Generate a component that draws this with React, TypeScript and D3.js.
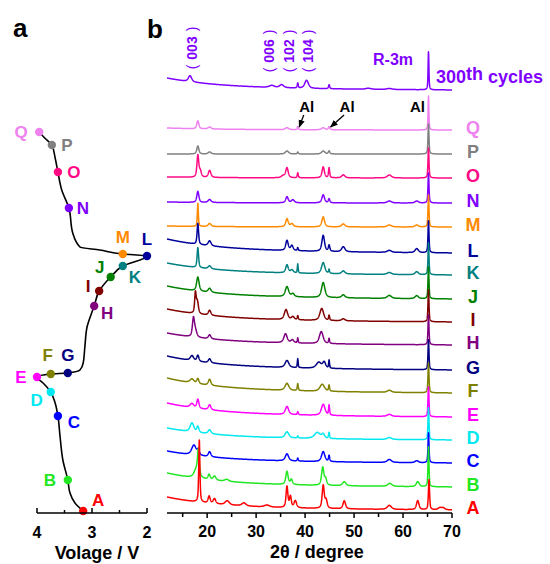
import React from "react";
import * as d3 from "d3";

const W = 550;
const H = 564;
const FONT = "'Liberation Sans', Arial, Helvetica, sans-serif";

// ---------- Panel a : charge/discharge curve ----------
const curveVoltage = [3.16, 3.31, 3.4, 3.44, 3.53, 3.58, 3.62, 3.67, 3.75, 3.89, 4.0, 3.75, 3.44, 3.22, 3.16, 3.13, 3.09, 3.0, 2.96, 2.87, 2.66, 2.44, 2.0, 2.44, 2.86, 3.22, 3.35, 3.42, 3.55, 3.62, 3.67, 3.73, 3.86, 3.96];
const curveTime = [0.5, 2.5, 5, 8.25, 13.25, 19, 24.25, 27.5, 30.25, 32.5, 34, 34.75, 35, 35.75, 37.5, 41.5, 46.5, 50.25, 51.75, 55.5, 59, 61.75, 64.25, 64.75, 65.75, 66.5, 70, 76.25, 80.75, 85.25, 88.75, 92, 93.75, 95.25];

const stateNames = ["A", "B", "C", "D", "E", "F", "G", "H", "I", "J", "K", "L", "M", "N", "O", "P", "Q"];
const stateVoltage = [3.16, 3.44, 3.62, 3.75, 4.0, 3.75, 3.44, 2.96, 2.87, 2.66, 2.44, 2.0, 2.44, 3.42, 3.62, 3.73, 3.96];
const stateTime = [0.5, 8.25, 24.25, 30.25, 34, 34.75, 35, 51.75, 55.5, 59, 61.75, 64.25, 64.75, 76.25, 85.25, 92, 95.25];
const stateColors = ["#ff0000", "#22e622", "#0000ff", "#00e8f0", "#ff00ff", "#808000", "#000080", "#800080", "#800000", "#008000", "#008080", "#00009c", "#ff8a00", "#8000ff", "#ff0a84", "#808080", "#ee82ee"];
const voltTicks = [4, 3, 2];
const voltMinorTicks = [3.5, 2.5];

// label offsets (layout)
const stateLabelDx = [15, -18, 16, -14, -16, -3, 0, 13, -11, -11, 12, 0, 0, 14, 16, 15, -18];
const stateLabelDy = [-11, 0, 6, 8, 0, -19, -18, 7, -5, -10, 11, -17, -17, 0, 0, 0, 0];

// ---------- Panel b : XRD patterns ----------
const traceNames = [...stateNames, "300th"];
const traceColors = [...stateColors, "#7f00ff"];
const traceBgStart = [16, 40, 62, 85, 110, 135, 157, 180, 204, 227, 250, 274, 287, 311, 336, 359, 385, 435];
const traceBgEnd = [3, 26, 50, 73, 96, 120, 143, 168, 191, 214, 238, 260, 286, 310, 335, 359, 383, 423];
// [2theta, height, half-width]
const tracePeaks: number[][][] = [
  // A
  [[18.4, 62, 0.14], [20.4, 7, 0.25], [21.5, 5, 0.3], [24.1, 4, 0.5], [27.5, 3, 0.5], [32.2, 2, 0.6], [36.3, 21, 0.22], [37.0, 11, 0.22], [38.0, 7, 0.3], [43.7, 23, 0.25], [44.3, 8, 0.25], [48.0, 8, 0.3], [57.2, 4, 0.5], [63.0, 9, 0.3], [65.3, 30, 0.14], [67.5, 2, 0.4], [68.2, 2, 0.4]],
  // B
  [[17.9, 10, 0.6], [18.2, 22, 0.18], [20.4, 5, 0.25], [21.5, 4, 0.35], [24.0, 2, 0.5], [36.3, 13, 0.28], [37.2, 5, 0.25], [43.6, 18, 0.28], [44.2, 6, 0.25], [48.0, 4, 0.4], [57.3, 3, 0.5], [63.0, 5, 0.35], [65.2, 40, 0.12]],
  // C
  [[17.3, 10, 0.55], [18.2, 5, 0.25], [20.5, 5, 0.3], [36.3, 7, 0.4], [38.5, 3, 0.12], [43.7, 10, 0.4], [44.9, 6, 0.14], [57.2, 3, 0.5], [62.8, 2, 0.4], [65.2, 30, 0.12]],
  // D
  [[16.9, 9, 0.45], [18.1, 6, 0.25], [20.5, 4, 0.35], [36.3, 6, 0.45], [38.5, 2, 0.12], [42.5, 6, 0.7], [43.7, 4, 0.35], [44.9, 6, 0.12], [57.2, 2, 0.5], [65.2, 32, 0.12]],
  // E
  [[16.9, 4, 0.45], [18.1, 9, 0.25], [20.5, 5, 0.3], [36.3, 8, 0.4], [38.5, 3, 0.12], [43.7, 11, 0.45], [44.9, 10, 0.12], [57.2, 2, 0.5], [65.2, 30, 0.12]],
  // F
  [[16.9, 4, 0.5], [18.1, 5, 0.25], [20.5, 6, 0.3], [36.3, 7, 0.45], [38.5, 7, 0.12], [43.5, 7, 0.55], [44.9, 6, 0.12], [57.2, 2, 0.5], [65.2, 30, 0.12]],
  // G
  [[16.9, 5, 0.4], [18.1, 6, 0.25], [20.5, 4, 0.3], [36.3, 7, 0.45], [38.5, 9, 0.1], [42.8, 6, 0.6], [43.9, 6, 0.35], [44.9, 8, 0.1], [65.2, 30, 0.12]],
  // H
  [[17.2, 18, 0.25], [17.6, 6, 0.35], [20.5, 4, 0.3], [36.0, 9, 0.4], [37.4, 3, 0.35], [38.5, 5, 0.1], [43.3, 12, 0.45], [44.9, 5, 0.12], [65.2, 30, 0.12]],
  // I
  [[17.6, 20, 0.18], [18.0, 12, 0.25], [20.5, 5, 0.3], [36.1, 10, 0.4], [37.5, 3, 0.35], [38.5, 4, 0.12], [43.4, 12, 0.45], [44.9, 5, 0.12], [47.8, 2, 0.4], [65.2, 32, 0.12]],
  // J
  [[18.1, 14, 0.3], [20.5, 4, 0.35], [36.3, 10, 0.4], [37.5, 3, 0.35], [43.7, 15, 0.4], [47.8, 3, 0.4], [57.2, 3, 0.5], [62.8, 3, 0.4], [65.2, 32, 0.12]],
  // K
  [[18.1, 20, 0.18], [20.5, 3, 0.35], [36.3, 8, 0.3], [37.3, 3, 0.35], [38.5, 9, 0.1], [43.7, 11, 0.4], [44.9, 4, 0.12], [47.8, 3, 0.4], [57.2, 2, 0.5], [62.8, 3, 0.4], [65.2, 32, 0.12]],
  // L
  [[18.1, 21, 0.18], [20.5, 5, 0.35], [36.3, 10, 0.3], [37.3, 5, 0.3], [38.5, 3, 0.12], [43.7, 16, 0.32], [44.9, 6, 0.18], [47.8, 5, 0.4], [57.2, 2, 0.5], [62.8, 4, 0.4], [65.2, 32, 0.12]],
  // M
  [[18.1, 23, 0.12], [20.5, 3, 0.35], [36.3, 8, 0.3], [37.3, 3, 0.35], [43.7, 10, 0.32], [47.8, 3, 0.4], [57.2, 2, 0.5], [62.8, 2, 0.4], [65.2, 32, 0.12]],
  // N
  [[18.1, 11, 0.25], [20.5, 3, 0.35], [36.3, 6, 0.3], [37.5, 3, 0.35], [43.7, 8, 0.32], [44.9, 4, 0.18], [57.2, 2, 0.5], [62.8, 2, 0.4], [65.2, 30, 0.12]],
  // O
  [[18.1, 22, 0.22], [18.6, 6, 0.25], [20.5, 7, 0.3], [35.5, 2, 0.4], [36.3, 10, 0.3], [38.5, 5, 0.12], [43.7, 11, 0.28], [44.9, 10, 0.14], [47.8, 3, 0.4], [57.2, 3, 0.5], [65.2, 30, 0.12]],
  // P
  [[18.1, 8, 0.25], [20.5, 2, 0.35], [36.3, 3, 0.4], [38.5, 2, 0.12], [43.7, 3, 0.4], [44.9, 3, 0.18], [65.2, 30, 0.12]],
  // Q
  [[18.1, 8, 0.25], [20.5, 2, 0.35], [36.3, 2, 0.4], [38.5, 3, 0.12], [43.7, 2, 0.4], [44.9, 3, 0.18], [65.2, 34, 0.1]],
  // 300th
  [[16.5, 6, 0.4], [33.2, 2, 0.6], [35.2, 3, 0.5], [38.5, 5, 0.12], [40.3, 8, 0.45], [44.9, 4, 0.14], [52.9, 1, 0.6], [57.2, 1, 0.6], [65.2, 38, 0.1]],
];
const thetaTicks = [20, 30, 40, 50, 60, 70];
const thetaMinorTicks = [15, 25, 35, 45, 55, 65];
const hklLabels = ["003", "006", "102", "104"];
const hklTheta = [17.0, 32.6, 36.8, 40.6];
const alTheta = [38.5, 44.9, 65.2];
const alLabelDx = [9, 18, -11];

function App() {
  // panel a scales
  const vScale = d3.scaleLinear().domain([4, 2]).range([37, 147]);
  const tScale = d3.scaleLinear().domain([0, 100]).range([513, 113]);
  const curvePath = d3
    .line<number>()
    .x((i) => vScale(curveVoltage[i]))
    .y((i) => tScale(curveTime[i]))
    .curve(d3.curveMonotoneY)(d3.range(curveVoltage.length)) as string;

  // panel b scales
  const xScale = d3.scaleLinear().domain([11.8, 70]).range([167, 452]);
  const yScale = d3.scaleLinear().domain([0, 450]).range([513, 63]);

  const baseGrid = d3.range(11.8, 70.0001, 0.03);
  const traces = traceNames.map((name, k) => {
    const peaks = tracePeaks[k];
    const grid = [...baseGrid, ...peaks.map((p) => p[0])].sort((a, b) => a - b);
    const b0 = traceBgStart[k];
    const b1 = traceBgEnd[k];
    const pts = grid.map((t) => {
      const decay = 0.85 * Math.exp(-(t - 11.8) / 11) + 0.15 * (70 - t) / 58.2;
      let v = b1 + (b0 - b1) * decay;
      for (const [p, h, w] of peaks) {
        const u = (t - p) / w;
        v += h * (0.6 / (1 + u * u) + 0.4 * Math.exp(-Math.LN2 * u * u));
      }
      return [t, v] as [number, number];
    });
    const path = d3
      .line<[number, number]>()
      .x((d) => xScale(d[0]))
      .y((d) => yScale(d[1]))(pts) as string;
    return { name, color: traceColors[k], path, labelY: yScale(b1) - 2 };
  });

  const qBase = yScale(traceBgEnd[16]);

  return (
    <svg
      width={W}
      height={H}
      viewBox={`0 0 ${W} ${H}`}
      style={{ position: "absolute", left: 0, top: 0, background: "#fff" }}
      fontFamily={FONT}
    >
      <defs>
        <marker id="arr" viewBox="0 0 10 10" refX="9" refY="5" markerWidth="6" markerHeight="6" orient="auto-start-reverse">
          <path d="M0,1 L10,5 L0,9 z" fill="#000" />
        </marker>
      </defs>
      <rect x={0} y={0} width={W} height={H} fill="#fff" />

      {/* panel letters */}
      <text x={13} y={37} fontSize={26} fontWeight="bold" fill="#000">a</text>
      <text x={147} y={38} fontSize={26} fontWeight="bold" fill="#000">b</text>

      {/* ---- panel a ---- */}
      <path d={curvePath} fill="none" stroke="#000" strokeWidth={1.6} />
      {stateNames.map((n, i) => (
        <g key={n}>
          <circle cx={vScale(stateVoltage[i])} cy={tScale(stateTime[i])} r={4.2} fill={stateColors[i]} />
          <text
            x={vScale(stateVoltage[i]) + stateLabelDx[i]}
            y={tScale(stateTime[i]) + stateLabelDy[i]}
            fontSize={17}
            fontWeight="bold"
            fill={stateColors[i]}
            textAnchor="middle"
            dominantBaseline="central"
          >
            {n}
          </text>
        </g>
      ))}
      <line x1={vScale(4)} x2={vScale(2)} y1={513} y2={513} stroke="#000" strokeWidth={1.6} />
      {voltTicks.map((v) => (
        <g key={v}>
          <line x1={vScale(v)} x2={vScale(v)} y1={513} y2={508} stroke="#000" strokeWidth={1.5} />
          <text x={vScale(v)} y={538} fontSize={16} fontWeight="bold" textAnchor="middle" fill="#000">{v}</text>
        </g>
      ))}
      {voltMinorTicks.map((v) => (
        <line key={v} x1={vScale(v)} x2={vScale(v)} y1={513} y2={510} stroke="#000" strokeWidth={1.5} />
      ))}
      <text x={97} y={559} fontSize={18} fontWeight="bold" textAnchor="middle" fill="#000">Volage / V</text>

      {/* ---- panel b ---- */}
      {[...traces].reverse().map((tr) => (
        <path key={tr.name} d={tr.path} fill="none" stroke={tr.color} strokeWidth={1.5} strokeLinejoin="round" />
      ))}
      {traces.slice(0, 17).map((tr) => (
        <text key={tr.name} x={473} y={tr.labelY} fontSize={18} fontWeight="bold" fill={tr.color} textAnchor="middle" dominantBaseline="central">
          {tr.name}
        </text>
      ))}
      <text x={436} y={83} fontSize={18} fontWeight="bold" fill="#7f00ff">
        300<tspan dy={-3}>th</tspan><tspan dy={3}> cycles</tspan>
      </text>
      <text x={373} y={65} fontSize={16} fontWeight="bold" fill="#7f00ff">R-3m</text>
      {hklLabels.map((l, i) => (
        <g key={l} transform={`translate(${xScale(hklTheta[i]) + 5},${i === 0 ? 48 : 51}) rotate(-90)`} fill="#7f00ff">
          <text x={0} y={0} fontSize={14} fontWeight="bold" textAnchor="middle">{l}</text>
          <text x={-19} y={0} fontSize={14} textAnchor="middle">(</text>
          <text x={19} y={0} fontSize={14} textAnchor="middle">)</text>
        </g>
      ))}
      {alTheta.map((t, i) => (
        <text key={t} x={xScale(t) + alLabelDx[i]} y={112} fontSize={15} fontWeight="bold" textAnchor="middle" fill="#000">Al</text>
      ))}
      {alTheta.slice(0, 2).map((t, i) => (
        <line
          key={t}
          x1={xScale(t) + alLabelDx[i] - 3}
          y1={115}
          x2={xScale(t) + 1.5}
          y2={qBase - 3}
          stroke="#000"
          strokeWidth={1.3}
          markerEnd="url(#arr)"
        />
      ))}

      <line x1={167} x2={452} y1={513} y2={513} stroke="#000" strokeWidth={1.6} />
      {thetaTicks.map((t) => (
        <g key={t}>
          <line x1={xScale(t)} x2={xScale(t)} y1={513} y2={518} stroke="#000" strokeWidth={1.5} />
          <text x={xScale(t)} y={537} fontSize={16} fontWeight="bold" textAnchor="middle" fill="#000">{t}</text>
        </g>
      ))}
      {thetaMinorTicks.map((t) => (
        <line key={t} x1={xScale(t)} x2={xScale(t)} y1={513} y2={517} stroke="#000" strokeWidth={1.5} />
      ))}
      <text x={317} y={558} fontSize={18} fontWeight="bold" textAnchor="middle" fill="#000">2θ / degree</text>
    </svg>
  );
}

export default App;
